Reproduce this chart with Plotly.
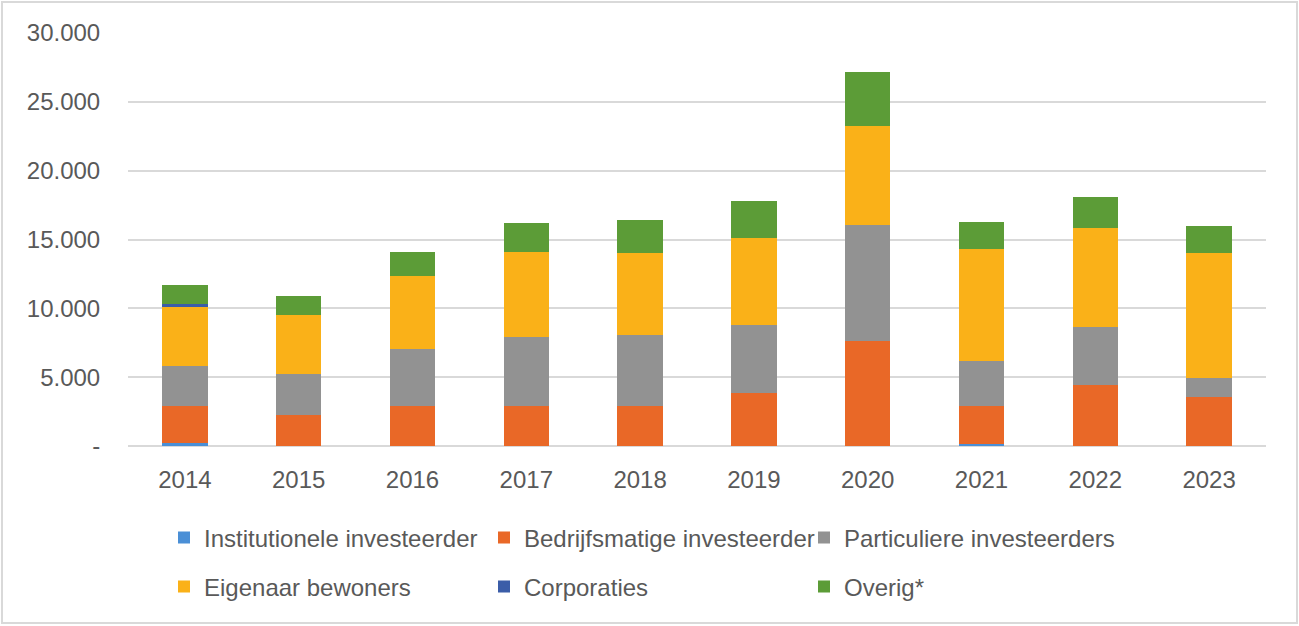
import plotly.graph_objects as go

years = ["2014", "2015", "2016", "2017", "2018", "2019", "2020", "2021", "2022", "2023"]
institutioneel = [200, 0, 0, 0, 0, 0, 0, 120, 0, 0]
bedrijfsmatig = [2730, 2230, 2930, 2930, 2930, 3840, 7640, 2810, 4440, 3540]
particulier = [2910, 3010, 4130, 5020, 5130, 4920, 8390, 3210, 4220, 1390]
eigenaar = [4300, 4240, 5310, 6150, 5940, 6330, 7240, 8150, 7150, 9070]
corporaties = [140, 0, 0, 0, 0, 0, 0, 0, 0, 0]
overig = [1420, 1420, 1730, 2110, 2400, 2720, 3900, 2010, 2310, 2010]

series_names = ["Institutionele investeerder", "Bedrijfsmatige investeerder",
                "Particuliere investeerders", "Eigenaar bewoners", "Corporaties", "Overig*"]
series_values = [institutioneel, bedrijfsmatig, particulier, eigenaar, corporaties, overig]
colors = ["#4A8FD6", "#E96827", "#929292", "#FAB118", "#3B5DA8", "#5C9C37"]
legend_ids = ["legend", "legend", "legend", "legend2", "legend2", "legend2"]

y_tickvals = [0, 5000, 10000, 15000, 20000, 25000, 30000]
y_ticktext = ["-", "5.000", "10.000", "15.000", "20.000", "25.000", "30.000"]

FONT = "Liberation Sans, Arial, sans-serif"
TXT = "#595959"

fig = go.Figure()
for name, vals, col, lg in zip(series_names, series_values, colors, legend_ids):
    fig.add_trace(go.Bar(x=years, y=vals, name=name, marker=dict(color=col, line=dict(width=0)),
                         legend=lg, hoverinfo="skip"))

W, H = 1299, 626
ml, mr, mt, mb = 128, 33, 33, 180
pw = W - ml - mr
ph = H - mt - mb

def px_x(p):
    return (p - ml) / pw

def px_y(p):
    return (H - mb - p) / ph

fig.update_layout(
    width=W, height=H,
    margin=dict(l=ml, r=mr, t=mt, b=mb, autoexpand=False),
    barmode="stack", bargap=0.6,
    paper_bgcolor="white", plot_bgcolor="white",
    font=dict(family=FONT, size=24, color=TXT),
    xaxis=dict(type="category", showgrid=False, showline=False, zeroline=False,
               ticks="outside", ticklen=12, tickcolor="rgba(0,0,0,0)",
               tickfont=dict(family=FONT, size=24, color=TXT)),
    yaxis=dict(range=[0, 30000], tickvals=y_tickvals, ticktext=y_ticktext,
               showgrid=True, gridcolor="#D9D9D9", gridwidth=2,
               zeroline=True, zerolinecolor="#D9D9D9", zerolinewidth=2,
               showline=False, ticks="outside", ticklen=22, tickcolor="rgba(0,0,0,0)",
               tickfont=dict(family=FONT, size=24, color=TXT)),
    legend=dict(orientation="h", x=px_x(164), y=px_y(538), xanchor="left", yanchor="middle",
                entrywidth=275, entrywidthmode="pixels", font=dict(family=FONT, size=24, color=TXT),
                bgcolor="rgba(0,0,0,0)", traceorder="normal"),
    legend2=dict(orientation="h", x=px_x(164), y=px_y(587), xanchor="left", yanchor="middle",
                 entrywidth=275, entrywidthmode="pixels", font=dict(family=FONT, size=24, color=TXT),
                 bgcolor="rgba(0,0,0,0)", traceorder="normal"),
    shapes=[dict(type="rect", xref="paper", yref="paper",
                 x0=px_x(2), x1=px_x(1297), y0=px_y(623), y1=px_y(2),
                 line=dict(color="#D9D9D9", width=2), fillcolor="rgba(0,0,0,0)", layer="below")],
    showlegend=True,
)

fig.write_html("out.html", config={"displayModeBar": False},
               post_script="document.body.style.margin='0';")
